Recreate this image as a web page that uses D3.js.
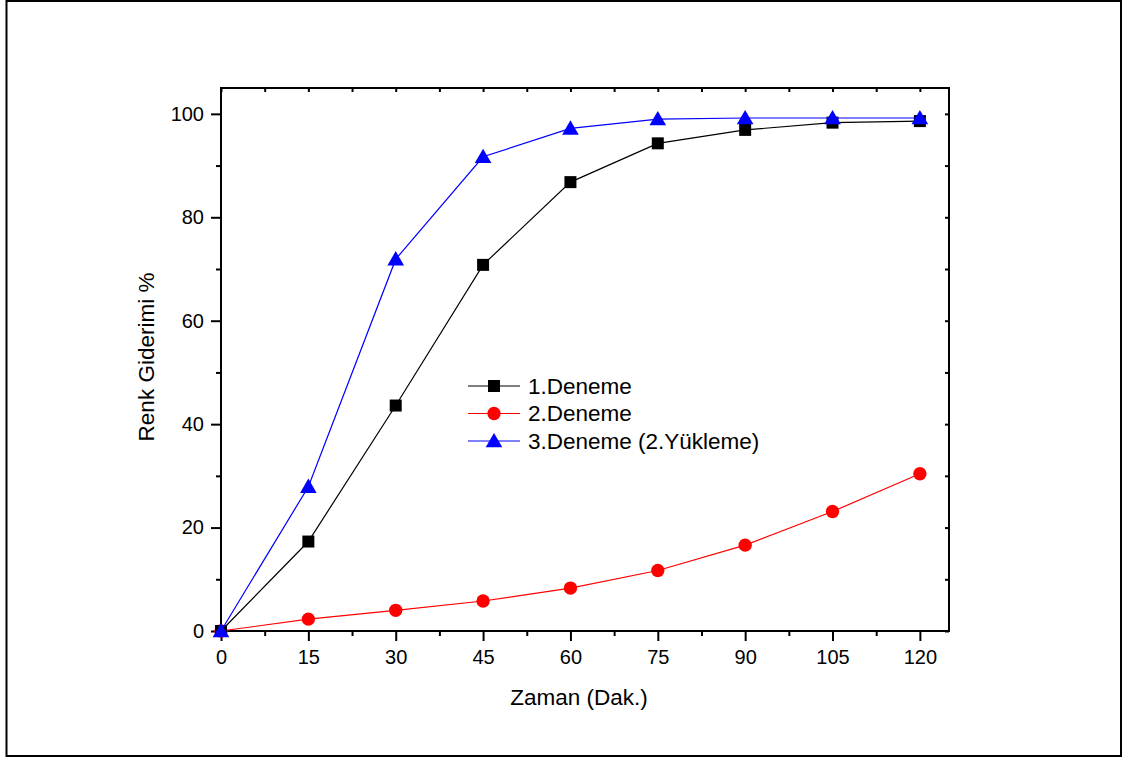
<!DOCTYPE html>
<html>
<head>
<meta charset="utf-8">
<script src="https://cdn.jsdelivr.net/npm/d3@7"></script>
<style>
  body { margin: 0; background: #fff; }
  text { font-family: "Liberation Sans", Arial, sans-serif; }
</style>
</head>
<body>
<div id="chart"></div>
<script>
// Data
const times = [0, 15, 30, 45, 60, 75, 90, 105, 120];
const deneme1 = [0, 17.3, 43.6, 70.8, 86.8, 94.3, 96.9, 98.3, 98.6];
const deneme2 = [0, 2.3, 4.0, 5.8, 8.3, 11.7, 16.6, 23.1, 30.4];
const deneme3 = [0, 27.9, 71.9, 91.7, 97.2, 99.0, 99.2, 99.2, 99.2];
const xTicks = [0, 15, 30, 45, 60, 75, 90, 105, 120];
const yTicks = [0, 20, 40, 60, 80, 100];
const seriesNames = ["1.Deneme", "2.Deneme", "3.Deneme (2.Yükleme)"];

const W = 1129, H = 760;
const margin = {top: 88, right: 180, bottom: 129, left: 221};
const width = W - margin.left - margin.right;   // 728
const height = H - margin.top - margin.bottom;  // 543

const svg = d3.select("#chart")
  .append("svg")
  .attr("width", W)
  .attr("height", H);

// Outer frame
svg.append("rect")
  .attr("x", 6.5).attr("y", 1)
  .attr("width", 1114.5).attr("height", 755)
  .attr("fill", "none").attr("stroke", "#000").attr("stroke-width", 2);

const g = svg.append("g").attr("transform", `translate(${margin.left},${margin.top})`);

const xScale = d3.scaleLinear().domain([0, 125]).range([0, width]);
const yScale = d3.scaleLinear().domain([0, 105]).range([height, 0]);

const xMinor = d3.range(7.5, 125, 15);
const yMinor = d3.range(10, 105, 20);

// Bottom axis
g.append("g")
  .attr("transform", `translate(0,${height})`)
  .call(d3.axisBottom(xScale).tickValues(xTicks).tickSize(10).tickPadding(9).tickSizeOuter(0));
g.append("g")
  .attr("transform", `translate(0,${height})`)
  .call(d3.axisBottom(xScale).tickValues(xMinor).tickSize(5).tickFormat("").tickSizeOuter(0));

// Left axis
g.append("g")
  .call(d3.axisLeft(yScale).tickValues(yTicks).tickSize(10).tickPadding(7).tickSizeOuter(0));
g.append("g")
  .call(d3.axisLeft(yScale).tickValues(yMinor).tickSize(5).tickFormat("").tickSizeOuter(0));

// Top and right axes, ticks inward
g.append("g")
  .call(d3.axisBottom(xScale).tickValues(xTicks.concat(xMinor)).tickSize(4).tickFormat("").tickSizeOuter(0));
g.append("g")
  .attr("transform", `translate(${width},0)`)
  .call(d3.axisLeft(yScale).tickValues(yTicks.concat(yMinor)).tickSize(4).tickFormat("").tickSizeOuter(0));

g.selectAll(".domain").remove();
g.selectAll(".tick line").attr("stroke", "#000").attr("stroke-width", 2);
g.selectAll(".tick text").attr("font-size", 20).attr("fill", "#000")
  .style("font-family", "'Liberation Sans', Arial, sans-serif");

// Plot box
g.append("rect")
  .attr("x", 0).attr("y", 0)
  .attr("width", width).attr("height", height)
  .attr("fill", "none").attr("stroke", "#000").attr("stroke-width", 2);

// Axis titles
svg.append("text")
  .attr("x", 579).attr("y", 705)
  .attr("text-anchor", "middle").attr("font-size", 22.5)
  .text("Zaman (Dak.)");
svg.append("text")
  .attr("transform", "translate(154,357) rotate(-90)")
  .attr("text-anchor", "middle").attr("font-size", 22.5)
  .text("Renk Giderimi %");

const colors = ["#000000", "#ff0000", "#0000ff"];
const series = [deneme1, deneme2, deneme3];
const symbols = [d3.symbolSquare, d3.symbolCircle, d3.symbolTriangle];
const symSizes = [144, 140, 120];

const line = d3.line()
  .x((d, i) => xScale(times[i]))
  .y(d => yScale(d));

// Draw series in order red, black, blue
[1, 0, 2].forEach(k => {
  g.append("path")
    .datum(series[k])
    .attr("d", line)
    .attr("fill", "none")
    .attr("stroke", colors[k])
    .attr("stroke-width", 1.2);
  g.selectAll(".pt" + k)
    .data(series[k])
    .join("path")
    .attr("class", "pt" + k)
    .attr("transform", (d, i) => `translate(${xScale(times[i])},${yScale(d) + (k === 2 ? 1.5 : 0)})`)
    .attr("d", d3.symbol().type(symbols[k]).size(symSizes[k]))
    .attr("fill", colors[k]);
});

// Legend
const legend = svg.append("g").attr("transform", "translate(468,386)");
seriesNames.forEach((name, k) => {
  const row = legend.append("g").attr("transform", `translate(0,${k * 27.5})`);
  row.append("line")
    .attr("x1", 0).attr("x2", 52).attr("y1", 0).attr("y2", 0)
    .attr("stroke", colors[k]).attr("stroke-width", 1.2);
  row.append("path")
    .attr("transform", `translate(26,${k === 2 ? 1.5 : 0})`)
    .attr("d", d3.symbol().type(symbols[k]).size(symSizes[k]))
    .attr("fill", colors[k]);
  row.append("text")
    .attr("x", 60).attr("y", 0).attr("dy", "0.35em")
    .attr("font-size", 22.5)
    .text(name);
});
</script>
</body>
</html>
